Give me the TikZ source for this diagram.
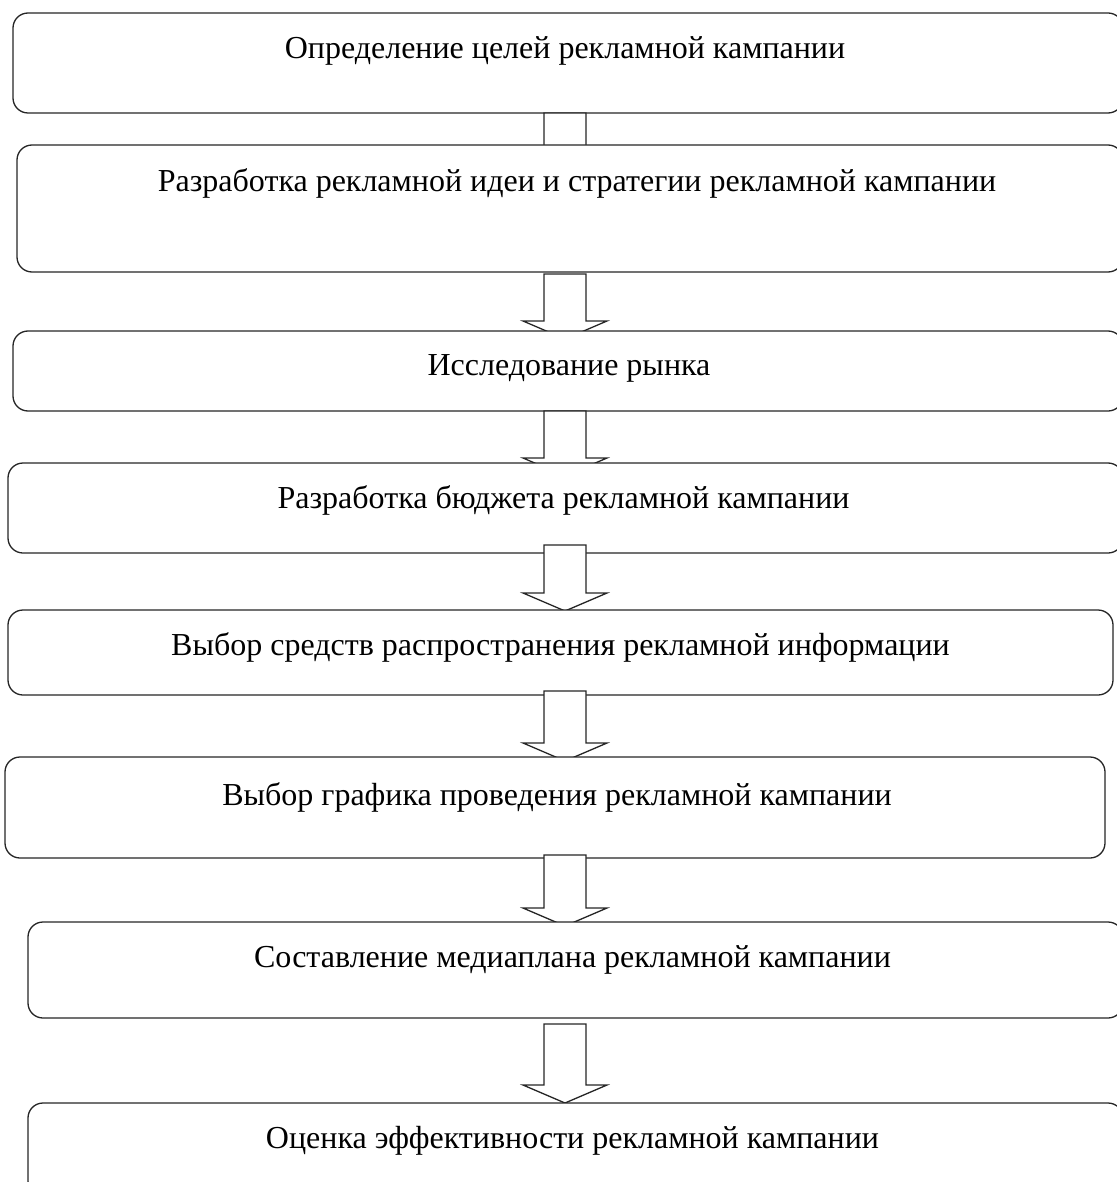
\documentclass[tikz,border=0pt]{standalone}
\usepackage{fontspec}
\setmainfont{Liberation Serif}
\usetikzlibrary{positioning,calc,fit}

\tikzset{
  stagearea/.style={inner sep=0pt,outer sep=0pt,draw=none},
  stagebox/.style={draw=black!85,line width=0.65pt,fill=white,rounded corners=7.5pt},
  stagetext/.style={font=\fontsize{16}{19}\selectfont,inner sep=0pt},
  blockarrow/.style={draw=black!85,line width=0.65pt,fill=white,line join=miter},
}

\begin{document}
\begin{tikzpicture}[x=0.5pt,y=-0.5pt]
  \useasboundingbox (0,0) rectangle (1117,1182);
  \coordinate (ax) at (565,0);
  % areas of the stages
  \node[stagearea,fit={(13,13) (1123,113)}] (b1) {};
  \node[stagearea,fit={(17,145) (1123,272)}] (b2) {};
  \node[stagearea,fit={(13,331) (1123,411)}] (b3) {};
  \node[stagearea,fit={(8,463) (1123,553)}] (b4) {};
  \node[stagearea,fit={(8,610) (1113,695)}] (b5) {};
  \node[stagearea,fit={(5,757) (1105,858)}] (b6) {};
  \node[stagearea,fit={(28,922) (1123,1018)}] (b7) {};
  \node[stagearea,fit={(28,1103) (1123,1196)}] (b8) {};
  % boxes and block arrows, top to bottom
  \foreach \i/\t/\h in {1/0/33,2/2/8,3/0/13,4/-8/1,5/-4/4,6/-3/4,7/6/0}{
    \pgfmathtruncatemacro{\j}{\i+1}
    \draw[stagebox] (b\i.south west) rectangle (b\i.north east);
    \draw[blockarrow] ($(b\i.south -| ax)+(-21,\t)$)
      -- ($(b\j.north -| ax)+(-21,\h-18)$) -- ++(-21,0)
      -- ($(b\j.north -| ax)+(0,\h)$)
      -- ($(b\j.north -| ax)+(42,\h-18)$) -- ++(-21,0)
      -- ($(b\i.south -| ax)+(21,\t)$) -- cycle;
  }
  \draw[stagebox] (b8.south west) rectangle (b8.north east);
  % texts
  \node[stagetext] (t1) at ([xshift=-1.5pt,yshift=-19pt]b1.north) {Определение целей рекламной кампании};
  \node[stagetext] (t2) at ([xshift=3.5pt,yshift=-19pt]b2.north) {Разработка рекламной идеи и стратегии рекламной кампании};
  \node[stagetext] (t3) at ([xshift=0.5pt,yshift=-18.5pt]b3.north) {Исследование рынка};
  \node[stagetext] (t4) at ([xshift=-1pt,yshift=-18.5pt]b4.north) {Разработка бюджета рекламной кампании};
  \node[stagetext] (t5) at ([yshift=-18.5pt]b5.north) {Выбор средств распространения рекламной информации};
  \node[stagetext] (t6) at ([xshift=1pt,yshift=-20pt]b6.north) {Выбор графика проведения рекламной кампании};
  \node[stagetext] (t7) at ([xshift=-1.5pt,yshift=-19pt]b7.north) {Составление медиаплана рекламной кампании};
  \node[stagetext] (t8) at ([xshift=-1.5pt,yshift=-19pt]b8.north) {Оценка эффективности рекламной кампании};
\end{tikzpicture}
\end{document}
